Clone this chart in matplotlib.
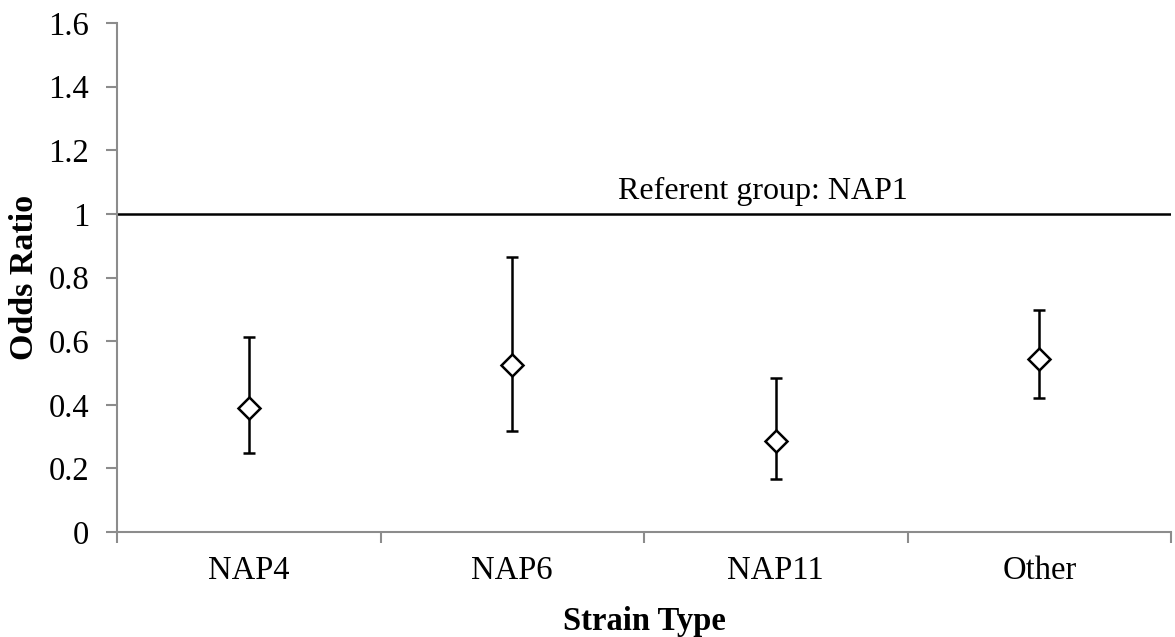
import matplotlib
matplotlib.use("Agg")
import matplotlib.pyplot as plt

# odds ratios with 95% confidence limits
strains = ["NAP4", "NAP6", "NAP11", "Other"]
odds_ratio = [0.39, 0.525, 0.286, 0.543]
ci_lower = [0.247, 0.318, 0.167, 0.420]
ci_upper = [0.613, 0.866, 0.485, 0.699]
referent = 1.0

plt.rcParams["font.family"] = ["Liberation Serif", "DejaVu Serif"]

fig = plt.figure(figsize=(11.75, 6.37), dpi=100)
ax = fig.add_axes([0.0996, 0.1648, 0.8970, 0.7991])

x = list(range(len(strains)))
yerr = [[o - l for o, l in zip(odds_ratio, ci_lower)],
        [u - o for o, u in zip(odds_ratio, ci_upper)]]
ax.errorbar(x, odds_ratio, yerr=yerr, fmt="D", color="black",
            mfc="white", mec="black", ms=11, mew=1.8,
            elinewidth=1.8, capsize=4.5, capthick=1.8, zorder=3)

# referent line
ax.axhline(referent, color="black", lw=1.8, zorder=2)
ax.text(1.95, referent + 0.025, "Referent group: NAP1", ha="center",
        va="bottom", fontsize=23)

ax.set_xlim(-0.5, len(strains) - 0.5)
ax.set_ylim(0, 1.6)
ax.set_yticks([0, 0.2, 0.4, 0.6, 0.8, 1.0, 1.2, 1.4, 1.6])
ax.set_yticklabels(["0", "0.2", "0.4", "0.6", "0.8", "1", "1.2", "1.4", "1.6"])

# category labels centered, ticks on boundaries
ax.set_xticks([i - 0.5 for i in range(len(strains) + 1)])
ax.set_xticklabels([])
ax.set_xticks(x, minor=True)
ax.set_xticklabels(strains, minor=True)
ax.tick_params(axis="x", which="minor", length=0, pad=17, labelsize=23.5)
ax.tick_params(axis="x", which="major", length=8, width=1.5, color="#8c8c8c")
ax.tick_params(axis="y", length=8, width=1.5, color="#8c8c8c", labelsize=23.5, pad=12)

for side in ["top", "right"]:
    ax.spines[side].set_visible(False)
for side in ["left", "bottom"]:
    ax.spines[side].set_color("#8c8c8c")
    ax.spines[side].set_linewidth(1.5)

ax.set_xlabel("Strain Type", fontsize=23.5, fontweight="bold", labelpad=14)
ax.set_ylabel("Odds Ratio", fontsize=24.5, fontweight="bold", labelpad=6)

fig.savefig("out.png", dpi=100)
